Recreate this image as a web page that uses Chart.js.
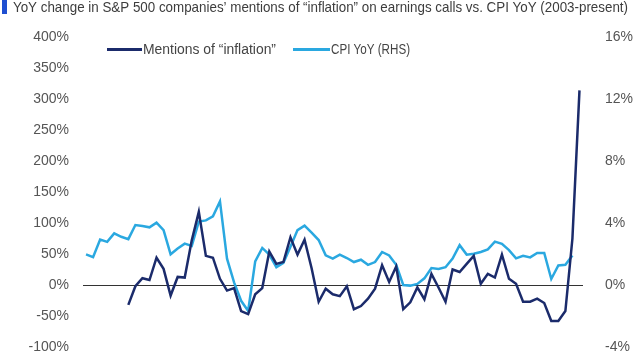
<!DOCTYPE html>
<html>
<head>
<meta charset="utf-8">
<script src="https://cdn.jsdelivr.net/npm/chart.js@4.4.1/dist/chart.umd.min.js"></script>
<style>
  html, body { margin: 0; padding: 0; background: #fff; }
  #wrap { width: 640px; height: 360px; position: relative; }
</style>
</head>
<body>
<div id="wrap"><canvas id="chart"></canvas></div>
<script>
// quarterly points, 2003 Q4 .. 2021 Q2
const quarters = [];
for (let y = 2003, q = 4; quarters.length < 71; q++) {
  if (q > 4) { q = 1; y++; }
  quarters.push(y + ' Q' + q);
}

// YoY change in mentions of "inflation" (%), starts 2005 Q2
const mentions = [
  null, null, null, null, null, null,
  -32, -2, 11, 8, 44, 26, -17, 13, 12, 72,
  118, 47, 44, 10, -9, -5, -42, -47, -15, -5,
  54, 34, 37, 77, 49, 73, 27, -27, -6, -15,
  -18, -2, -39, -34, -22, -6, 32, 5, 30, -39,
  -28, -4, -23, 18, -4, -27, 25, 21, 34, 47,
  2, 18, 12, 49, 10, 2, -27, -27, -22, -29,
  -58, -58, -42, 75, 314
];

// CPI YoY (%), right axis, 2003 Q4 .. 2021 Q1
const cpi = [
  1.98, 1.80, 2.93, 2.78, 3.33, 3.11, 2.96, 3.87, 3.80, 3.72,
  4.02, 3.54, 1.98, 2.35, 2.67, 2.52, 4.09, 4.17, 4.43, 5.39,
  1.70, 0.17, -1.02, -1.67, 1.52, 2.39, 1.96, 1.15, 1.43, 2.46,
  3.54, 3.83, 3.38, 2.90, 1.91, 1.70, 1.96, 1.74, 1.48, 1.63,
  1.30, 1.48, 2.13, 1.91, 1.30, 0.00, -0.04, 0.07, 0.43, 1.09,
  1.04, 1.15, 1.70, 2.57, 1.96, 2.02, 2.13, 2.30, 2.80, 2.65,
  2.25, 1.72, 1.88, 1.78, 2.07, 2.07, 0.39, 1.26, 1.30, 1.91
];

const leftTicks = { min: -100, max: 400, step: 50 };
const rightTicks = { min: -4, max: 16, step: 4 };

const TITLE = 'YoY change in S&P 500 companies\u2019 mentions of \u201cinflation\u201d on earnings calls vs. CPI YoY (2003-present)';
const FONT = '"Liberation Sans", Arial, sans-serif';
const NAVY = '#1b2b6b';
const SKY = '#2aa8e0';

const toPoints = arr => arr.map((v, i) => ({ x: i, y: v }));

// draws text squeezed to a given width (reference face is condensed)
function fitText(ctx, text, x, y, width) {
  const w = ctx.measureText(text).width;
  ctx.save();
  ctx.translate(x, y);
  ctx.scale(width / w, 1);
  ctx.fillText(text, 0, 0);
  ctx.restore();
}

// fixed axis width, and no extra room reserved for the end labels
const fixWidth = w => s => {
  s.width = w;
  s.paddingTop = 0;
  s.paddingBottom = 0;
};

const headerPlugin = {
  id: 'header',
  afterDraw(chart) {
    const ctx = chart.ctx;
    ctx.save();
    ctx.fillStyle = '#1f4fd1';
    ctx.fillRect(2, 0, 5, 14);

    ctx.fillStyle = '#3d3d3d';
    ctx.font = '15px ' + FONT;
    ctx.textBaseline = 'alphabetic';
    fitText(ctx, TITLE, 13, 12, 615);

    // legend: line sample followed directly by the label
    const slots = [
      { x0: 107, x1: 142, w: 133 },
      { x0: 293, x1: 330, w: 79 }
    ];
    ctx.font = '14px ' + FONT;
    ctx.textBaseline = 'middle';
    chart.data.datasets.forEach((ds, i) => {
      const s = slots[i];
      ctx.strokeStyle = ds.borderColor;
      ctx.lineWidth = 3;
      ctx.beginPath();
      ctx.moveTo(s.x0, 49.5);
      ctx.lineTo(s.x1, 49.5);
      ctx.stroke();
      ctx.fillStyle = '#444';
      fitText(ctx, ds.label, s.x1 + 1, 50, s.w);
    });
    ctx.restore();
  }
};

new Chart(document.getElementById('chart'), {
  type: 'line',
  data: {
    datasets: [
      {
        label: 'Mentions of \u201cinflation\u201d',
        data: toPoints(mentions),
        borderColor: NAVY,
        borderWidth: 2.5,
        pointRadius: 0,
        yAxisID: 'y',
        order: 1
      },
      {
        label: 'CPI YoY (RHS)',
        data: toPoints(cpi),
        borderColor: SKY,
        borderWidth: 2.5,
        pointRadius: 0,
        yAxisID: 'y1',
        order: 2
      }
    ]
  },
  options: {
    responsive: true,
    maintainAspectRatio: false,
    animation: false,
    layout: { padding: { top: 37, bottom: 13, left: 0, right: 0 } },
    plugins: {
      legend: { display: false },
      tooltip: {
        callbacks: { title: items => quarters[items[0].parsed.x] }
      }
    },
    scales: {
      x: {
        type: 'linear',
        display: false,
        min: -0.43,
        max: 70.5
      },
      y: {
        position: 'left',
        min: leftTicks.min,
        max: leftTicks.max,
        afterFit: fixWidth(83),
        border: { display: false },
        grid: {
          drawTicks: false,
          color: c => c.tick.value === 0 ? '#333' : 'rgba(0,0,0,0)',
          lineWidth: 1
        },
        ticks: {
          stepSize: leftTicks.step,
          padding: 14,
          color: '#555',
          font: { family: FONT, size: 14 },
          callback: v => v + '%'
        }
      },
      y1: {
        position: 'right',
        min: rightTicks.min,
        max: rightTicks.max,
        afterFit: fixWidth(57),
        border: { display: false },
        grid: { display: false },
        ticks: {
          stepSize: rightTicks.step,
          padding: 14,
          color: '#555',
          font: { family: FONT, size: 14 },
          callback: v => v + '%'
        }
      }
    }
  },
  plugins: [headerPlugin]
});
</script>
</body>
</html>
